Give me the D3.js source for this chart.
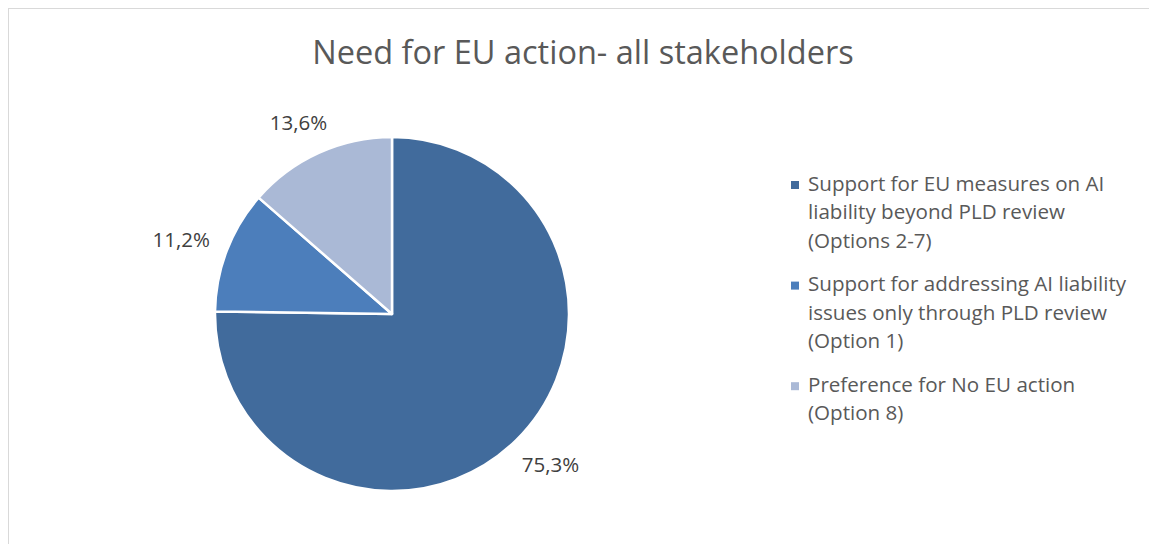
<!DOCTYPE html>
<html>
<head>
<meta charset="utf-8">
<script src="https://cdn.jsdelivr.net/npm/d3@7"></script>
<style>
  html, body { margin: 0; padding: 0; background: #fff; }
  svg { display: block; font-family: "Open Sans", Lato, sans-serif; }
</style>
</head>
<body>
<svg id="chart" width="1149" height="544"></svg>
<script>
// Share of stakeholder responses
const categories = [
  ["Support for EU measures on AI", "liability beyond PLD review", "(Options 2-7)"],
  ["Support for addressing AI liability", "issues only through PLD review", "(Option 1)"],
  ["Preference for No EU action", "(Option 8)"]
];
const values = [75.3, 11.2, 13.6];
const valueLabels = ["75,3%", "11,2%", "13,6%"];
const colors = ["#416B9C", "#4C7EBB", "#AAB9D6"];
const title = "Need for EU action- all stakeholders";

const svg = d3.select("#chart");
const W = 1149, H = 544;

// chart area border
svg.append("rect")
  .attr("x", 8.5).attr("y", 8.5)
  .attr("width", W + 10).attr("height", H + 10)
  .attr("fill", "#fff").attr("stroke", "#d9d9d9").attr("stroke-width", 1);

// title
svg.append("text")
  .attr("x", 583).attr("y", 64)
  .attr("text-anchor", "middle")
  .attr("font-size", 32.5)
  .attr("fill", "#595959")
  .text(title);

// pie
const cx = 392, cy = 314, R = 177;
const pie = d3.pie().sort(null).value(d => d);
const arcs = pie(values);
const arc = d3.arc().innerRadius(0).outerRadius(R);

const g = svg.append("g").attr("transform", `translate(${cx},${cy})`);
g.selectAll("path.slice")
  .data(arcs)
  .join("path")
  .attr("class", "slice")
  .attr("d", arc)
  .attr("fill", (d, i) => colors[i])
  .attr("stroke", "#fff")
  .attr("stroke-width", 2.5)
  .attr("stroke-linejoin", "round");

// data labels placed just outside the rim, pushed out by half their box
const gap = 20;
g.selectAll("text.val")
  .data(arcs)
  .join("text")
  .attr("class", "val")
  .attr("font-size", 20.5)
  .attr("fill", "#404040")
  .attr("text-anchor", "middle")
  .attr("dominant-baseline", "central")
  .text((d, i) => valueLabels[i])
  .each(function(d) {
    const a = (d.startAngle + d.endAngle) / 2;
    const dx = Math.sin(a), dy = -Math.cos(a);
    const bb = this.getBBox();
    const x = dx * (R + gap) + dx * bb.width / 2;
    const y = dy * (R + gap) + dy * bb.height / 2;
    d3.select(this).attr("x", x).attr("y", y);
  });

// legend
const lineH = 28.7, groupGap = 14.5;
const legend = svg.append("g").attr("transform", "translate(791,190.5)");
let yOff = 0;
categories.forEach((lines, i) => {
  const item = legend.append("g").attr("transform", `translate(0,${yOff})`);
  item.append("rect")
    .attr("x", 0).attr("y", -9.5)
    .attr("width", 8).attr("height", 8)
    .attr("fill", colors[i]);
  const t = item.append("text")
    .attr("font-size", 20.6)
    .attr("fill", "#595959");
  lines.forEach((ln, j) => {
    t.append("tspan").attr("x", 17).attr("y", j * lineH).text(ln);
  });
  yOff += lines.length * lineH + groupGap;
});
</script>
</body>
</html>
